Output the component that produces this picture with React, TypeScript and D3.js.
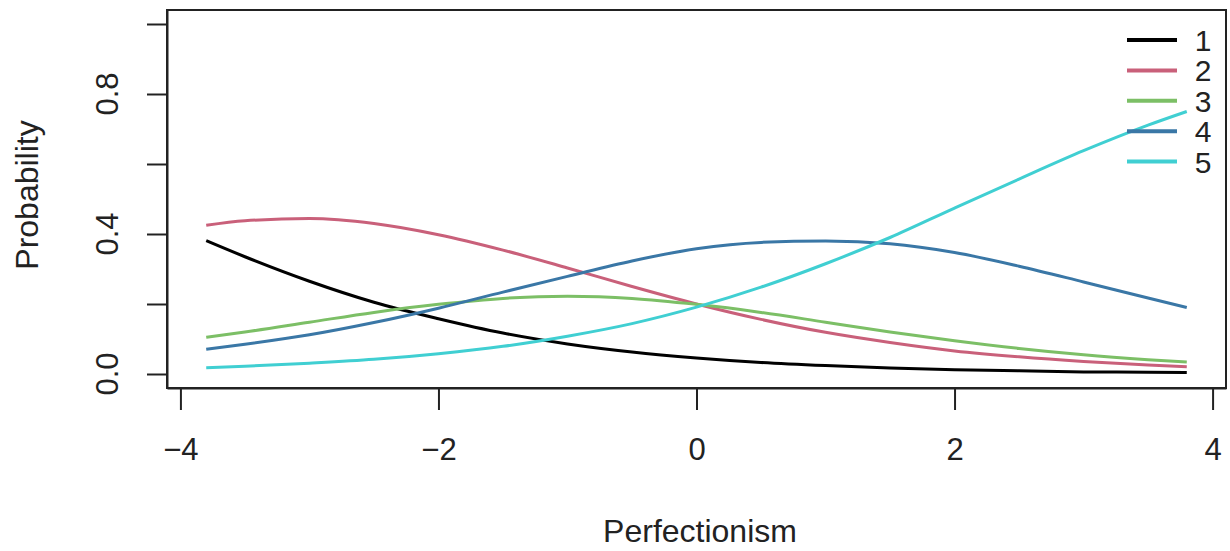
import React, { useEffect, useRef } from 'react';
import * as d3 from 'd3';

// values
const perfectionism = [-3.8, -3.5, -3, -2.5, -2, -1.5, -1, -0.5, 0, 0.5, 1, 1.5, 2, 2.5, 3, 3.5, 3.8];
const prob1 = [0.381, 0.335, 0.265, 0.205, 0.158, 0.117, 0.086, 0.063, 0.046, 0.033, 0.024, 0.017, 0.012, 0.009, 0.006, 0.005, 0.004];
const prob2 = [0.425, 0.438, 0.444, 0.43, 0.398, 0.354, 0.303, 0.25, 0.2, 0.156, 0.119, 0.09, 0.066, 0.049, 0.036, 0.026, 0.021];
const prob3 = [0.105, 0.12, 0.148, 0.176, 0.199, 0.216, 0.222, 0.216, 0.199, 0.176, 0.148, 0.12, 0.095, 0.073, 0.055, 0.041, 0.034];
const prob4 = [0.071, 0.085, 0.112, 0.147, 0.188, 0.234, 0.279, 0.323, 0.358, 0.376, 0.38, 0.372, 0.347, 0.308, 0.263, 0.217, 0.19];
const prob5 = [0.018, 0.022, 0.031, 0.042, 0.058, 0.079, 0.108, 0.144, 0.191, 0.248, 0.315, 0.39, 0.474, 0.557, 0.638, 0.711, 0.75];

const seriesNames = ['1', '2', '3', '4', '5'];
const seriesValues = [prob1, prob2, prob3, prob4, prob5];

const xTicks = [-4, -2, 0, 2, 4];
const yTicks = [0, 0.2, 0.4, 0.6, 0.8, 1.0];
const yTickLabels = ['0.0', '', '0.4', '', '0.8', ''];

const App = () => {
  const svgRef = useRef<SVGSVGElement>(null);

  useEffect(() => {
    const svg = d3.select(svgRef.current);
    svg.selectAll('*').remove();

    const width = 1230;
    const height = 551;
    const box = { left: 167, right: 1226, top: 10, bottom: 388 };
    const font = '"Liberation Sans", Arial, sans-serif';
    const colors = ['#000000', '#c9607a', '#7cbf66', '#3a77a6', '#40cfd2'];

    // R style 4% axis extension
    const x = d3.scaleLinear().domain([-4.104, 4.104]).range([box.left, box.right]);
    const y = d3.scaleLinear().domain([-0.04, 1.04]).range([box.bottom, box.top]);

    svg.append('rect')
      .attr('width', width)
      .attr('height', height)
      .attr('fill', '#fff');

    // curves
    const line = d3.line<[number, number]>()
      .x(d => x(d[0]))
      .y(d => y(d[1]))
      .curve(d3.curveMonotoneX);

    seriesValues.forEach((vals, i) => {
      svg.append('path')
        .datum(perfectionism.map((v, j) => [v, vals[j]] as [number, number]))
        .attr('d', line)
        .attr('fill', 'none')
        .attr('stroke', colors[i])
        .attr('stroke-width', 3)
        .attr('stroke-linejoin', 'round');
    });

    // plot box
    svg.append('rect')
      .attr('x', box.left)
      .attr('y', box.top)
      .attr('width', box.right - box.left)
      .attr('height', box.bottom - box.top)
      .attr('fill', 'none')
      .attr('stroke', '#222')
      .attr('stroke-width', 2);

    // x axis
    const xAxis = svg.append('g')
      .attr('transform', `translate(0,${box.bottom})`)
      .call(d3.axisBottom(x).tickValues(xTicks).tickSizeInner(22).tickSizeOuter(0).tickPadding(28)
        .tickFormat(d => (+d < 0 ? '\u2212' + Math.abs(+d) : String(d))));
    xAxis.select('.domain').attr('stroke', '#222').attr('stroke-width', 2);
    xAxis.selectAll('line').attr('stroke', '#222').attr('stroke-width', 2);
    xAxis.selectAll('text')
      .attr('font-family', font)
      .attr('font-size', 31)
      .attr('fill', '#222');

    // y axis
    const yAxis = svg.append('g')
      .attr('transform', `translate(${box.left},0)`)
      .call(d3.axisLeft(y).tickValues(yTicks).tickSizeInner(20).tickSizeOuter(0).tickFormat(() => ''));
    yAxis.select('.domain').attr('stroke', '#222').attr('stroke-width', 2);
    yAxis.selectAll('line').attr('stroke', '#222').attr('stroke-width', 2);

    svg.append('g')
      .selectAll('text')
      .data(yTicks)
      .join('text')
      .attr('transform', d => `translate(118,${y(d)}) rotate(-90)`)
      .attr('text-anchor', 'middle')
      .attr('font-family', font)
      .attr('font-size', 31)
      .attr('fill', '#222')
      .text((d, i) => yTickLabels[i]);

    // axis titles
    svg.append('text')
      .attr('x', 700)
      .attr('y', 542)
      .attr('text-anchor', 'middle')
      .attr('font-family', font)
      .attr('font-size', 32)
      .attr('fill', '#222')
      .text('Perfectionism');

    svg.append('text')
      .attr('transform', `translate(38,${(box.top + box.bottom) / 2 - 4}) rotate(-90)`)
      .attr('text-anchor', 'middle')
      .attr('font-family', font)
      .attr('font-size', 32)
      .attr('fill', '#222')
      .text('Probability');

    // legend, no box
    const legend = svg.append('g');
    seriesNames.forEach((name, i) => {
      const ly = 40 + i * 30.4;
      legend.append('line')
        .attr('x1', 1127)
        .attr('x2', 1177)
        .attr('y1', ly)
        .attr('y2', ly)
        .attr('stroke', colors[i])
        .attr('stroke-width', 4);
      legend.append('text')
        .attr('x', 1203)
        .attr('y', ly + 11)
        .attr('text-anchor', 'middle')
        .attr('font-family', font)
        .attr('font-size', 30)
        .attr('fill', '#222')
        .text(name);
    });
  }, []);

  return (
    <svg
      ref={svgRef}
      width="1230"
      height="551"
      style={{ position: 'absolute', left: 0, top: 0 }}
    ></svg>
  );
};

export default App;
